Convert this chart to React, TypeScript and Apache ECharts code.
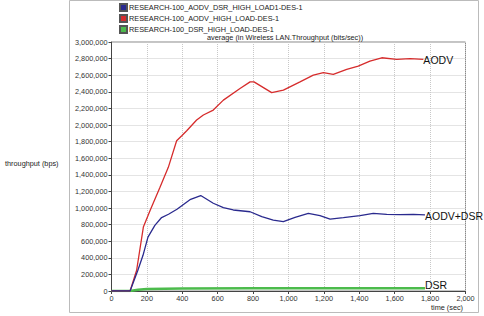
import React, { useEffect, useRef } from "react";
import * as echarts from "echarts";

const seriesNames = [
  "RESEARCH-100_AODV_DSR_HIGH_LOAD1-DES-1",
  "RESEARCH-100_AODV_HIGH_LOAD-DES-1",
  "RESEARCH-100_DSR_HIGH_LOAD-DES-1",
];
const endLabels = ["AODV+DSR", "AODV", "DSR"];

const aodvDsrTime = [0, 105, 149, 178, 206, 245, 283, 322, 370, 447, 504, 575, 632, 688, 783, 849, 914, 971, 1037, 1112, 1178, 1235, 1310, 1404, 1479, 1555, 1630, 1705, 1771];
const aodvDsrValues = [0, 0, 250000, 430000, 650000, 790000, 885000, 925000, 985000, 1105000, 1150000, 1057000, 1004000, 976000, 955000, 895000, 855000, 835000, 888000, 936000, 907000, 867000, 883000, 907000, 936000, 924000, 920000, 924000, 916000];

const aodvTime = [0, 105, 142, 180, 218, 274, 321, 368, 397, 425, 481, 519, 575, 632, 726, 783, 805, 905, 971, 1065, 1140, 1197, 1253, 1329, 1394, 1460, 1527, 1611, 1687, 1762];
const aodvValues = [0, 0, 250000, 770000, 970000, 1250000, 1490000, 1810000, 1870000, 1930000, 2060000, 2120000, 2180000, 2300000, 2440000, 2520000, 2520000, 2390000, 2420000, 2520000, 2600000, 2630000, 2610000, 2670000, 2710000, 2770000, 2810000, 2790000, 2800000, 2790000];

const dsrTime = [0, 105, 150, 200, 400, 800, 1200, 1600, 1771];
const dsrValues = [0, 0, 15000, 25000, 30000, 32000, 33000, 34000, 34000];

const colors = ["#2a2a8e", "#d62c2c", "#4cbb4c"];
const fontFamily = "'Liberation Sans', Arial, sans-serif";

const fmt = (v: number) => v.toLocaleString("en-US");

export default function App() {
  const ref = useRef<HTMLDivElement>(null);
  useEffect(() => {
    if (!ref.current) return;
    const chart = echarts.init(ref.current, null, { renderer: "svg" });
    const pairs = (t: number[], v: number[]) => t.map((x, i) => [x, v[i]]);
    const datas = [
      pairs(aodvDsrTime, aodvDsrValues),
      pairs(aodvTime, aodvValues),
      pairs(dsrTime, dsrValues),
    ];
    const widths = [1.3, 1.3, 2.5];
    const labelOffsets = [[0, 1], [0, 1], [0, -3]];
    const smallText = { fontSize: 7.3, color: "#222", fontWeight: "normal", fontFamily };
    chart.setOption({
      animation: false,
      textStyle: { fontFamily },
      color: colors,
      title: [
        { text: "average (in Wireless LAN.Throughput (bits/sec))", left: 207, top: 34, padding: 0, textStyle: smallText },
        { text: "throughput (bps)", left: 5, top: 160, padding: 0, textStyle: smallText },
        { text: "time (sec)", left: 431, top: 304, padding: 0, textStyle: smallText },
      ],
      legend: {
        orient: "vertical",
        left: 119,
        top: 3,
        padding: 0,
        itemWidth: 7,
        itemHeight: 7,
        itemGap: 2,
        icon: "rect",
        data: seriesNames,
        textStyle: { fontSize: 7.3, color: "#222", fontFamily, padding: [0, 0, 0, -3] },
      },
      grid: {
        left: 111.5,
        top: 42,
        width: 354,
        height: 249,
        show: true,
        borderColor: "#888",
        borderWidth: 1,
        containLabel: false,
      },
      xAxis: {
        type: "value",
        min: 0,
        max: 2000,
        interval: 200,
        axisLine: { lineStyle: { color: "#444" } },
        axisTick: { show: true, length: 3, lineStyle: { color: "#444" } },
        axisLabel: { fontSize: 7.3, color: "#333", margin: 4, formatter: fmt, fontFamily },
        splitLine: { lineStyle: { color: "#c8c8c8", type: "dotted" } },
      },
      yAxis: {
        type: "value",
        min: 0,
        max: 3000000,
        interval: 200000,
        axisLine: { show: true, lineStyle: { color: "#444" } },
        axisTick: { show: true, length: 3, lineStyle: { color: "#444" } },
        axisLabel: { fontSize: 7.3, color: "#333", margin: 4, formatter: fmt, fontFamily },
        splitLine: { lineStyle: { color: "#c8c8c8", type: "dotted" } },
      },
      series: seriesNames.map((name, i) => ({
        name,
        type: "line",
        data: datas[i],
        showSymbol: false,
        symbol: "none",
        lineStyle: { width: widths[i], color: colors[i] },
        itemStyle: { color: colors[i], borderColor: "#555", borderWidth: 0.5 },
        endLabel: {
          show: true,
          formatter: endLabels[i],
          color: "#111",
          fontSize: 10.5,
          fontFamily,
          distance: 0,
          offset: labelOffsets[i],
        },
        z: 3 - i,
      })),
      graphic: [
        {
          type: "rect",
          shape: { x: 69.5, y: 0.5, width: 409, height: 312 },
          style: { fill: "none", stroke: "#bbb", lineWidth: 1 },
          silent: true,
        },
      ],
    });
    return () => chart.dispose();
  }, []);
  return (
    <div
      ref={ref}
      style={{ position: "fixed", left: 0, top: 0, width: 484, height: 316, background: "#fff" }}
    />
  );
}
